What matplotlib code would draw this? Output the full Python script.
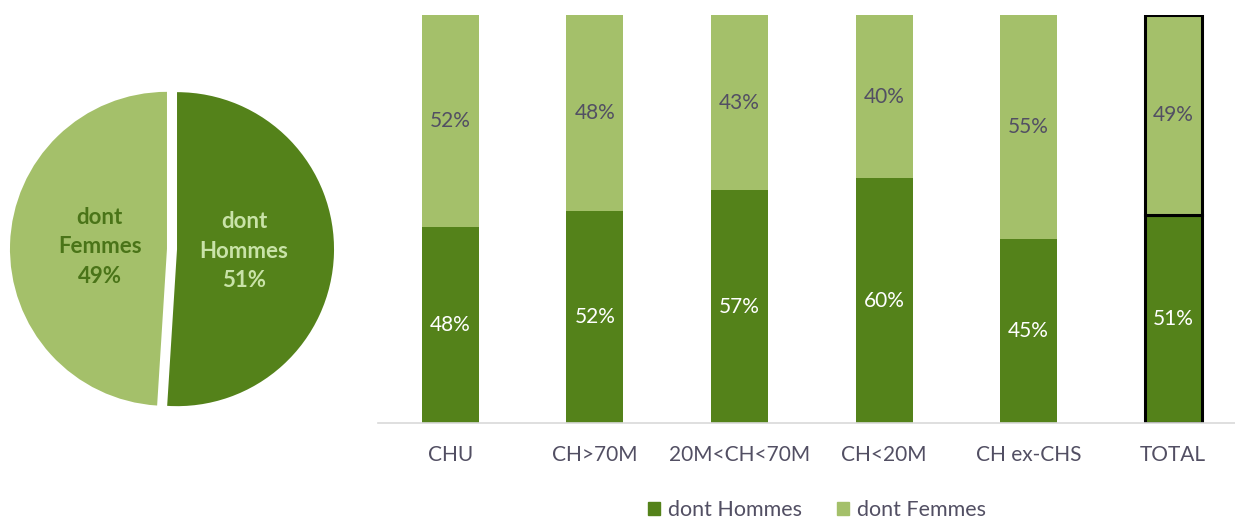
import matplotlib
matplotlib.use("Agg")
import matplotlib.pyplot as plt
import numpy as np
from matplotlib.patches import Patch

plt.rcParams['font.family'] = ['Lato', 'DejaVu Sans']

# Data
categories = ["CHU", "CH>70M", "20M<CH<70M", "CH<20M", "CH ex-CHS", "TOTAL"]
hommes = [48, 52, 57, 60, 45, 51]
femmes = [52, 48, 43, 40, 55, 49]
pie_labels = ["dont\nHommes", "dont\nFemmes"]
pie_values = [51, 49]
series_names = ["dont Hommes", "dont Femmes"]

DARK = "#54821A"
LIGHT = "#A4C06A"
TEXT = "#524F63"

W, H = 1235, 520
fig = plt.figure(figsize=(W / 100, H / 100), dpi=100)

# Pie chart
cx, cy, r = 172, 249, 157
pad = 1.06
pax = fig.add_axes([(cx - r * pad) / W, (H - cy - r * pad) / H, 2 * r * pad / W, 2 * r * pad / H])
wedges, _ = pax.pie(pie_values, colors=[DARK, LIGHT], startangle=90, counterclock=False,
                    radius=1.0, explode=[0.032, 0.032],
                    wedgeprops=dict(edgecolor="none", linewidth=0))
pax.set_xlim(-pad, pad)
pax.set_ylim(-pad, pad)
pax.set_aspect("equal")
pax.axis("off")
label_colors = ["#C9E3A8", "#4A7418"]
for w, lab, val, col in zip(wedges, pie_labels, pie_values, label_colors):
    ang = np.deg2rad((w.theta1 + w.theta2) / 2)
    x, y = 0.46 * np.cos(ang), 0.46 * np.sin(ang)
    pax.text(x, y, f"{lab}\n{val}%", ha="center", va="center", fontsize=16,
             fontweight="bold", color=col, linespacing=1.5)

# Stacked bars
left_px, right_px = 378, 1235
top_px, bottom_px = 15, 423
step = 144.6
ax = fig.add_axes([left_px / W, (H - bottom_px) / H, (right_px - left_px) / W,
                   (bottom_px - top_px) / H])
x = np.arange(len(categories))
bw = 0.395
edge = ["none"] * (len(categories) - 1) + ["black"]
lws = [0] * (len(categories) - 1) + [2.2]
ax.bar(x, hommes, bw, color=DARK, edgecolor=edge, linewidth=lws, label=series_names[0])
ax.bar(x, femmes, bw, bottom=hommes, color=LIGHT, edgecolor=edge, linewidth=lws,
       label=series_names[1])
for i in range(len(categories)):
    ax.text(x[i], hommes[i] / 2, f"{hommes[i]}%", ha="center", va="center",
            fontsize=15, color="white")
    ax.text(x[i], hommes[i] + femmes[i] / 2, f"{femmes[i]}%", ha="center", va="center",
            fontsize=15, color=TEXT)

ax.set_xlim(-0.5, -0.5 + (right_px - left_px) / step)
ax.set_ylim(0, 100)
for s in ["top", "right", "left"]:
    ax.spines[s].set_visible(False)
ax.spines["bottom"].set_color("#d9d9d9")
ax.spines["bottom"].set_linewidth(1.2)
ax.set_yticks([])
ax.set_xticks(x)
ax.set_xticklabels(categories, fontsize=15, color=TEXT)
ax.tick_params(axis="x", length=0, pad=16)

handles = [Patch(color=DARK), Patch(color=LIGHT)]
fig.legend(handles, series_names, loc="center", bbox_to_anchor=(817 / W, 1 - 510 / H),
           ncol=2, frameon=False, fontsize=15.5, labelcolor=TEXT, handlelength=0.55,
           handleheight=0.55, handletextpad=0.4, columnspacing=1.6)

fig.savefig("out.png", dpi=100, facecolor="white")
